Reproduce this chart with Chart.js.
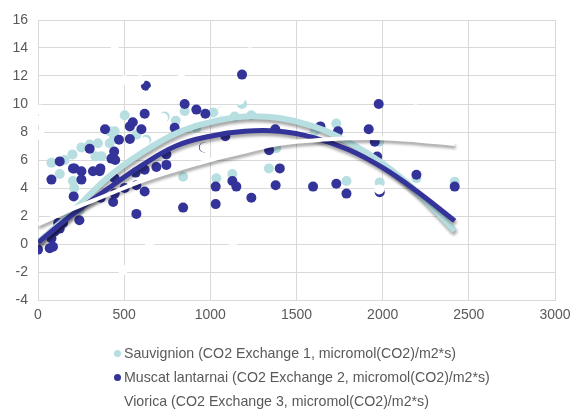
<!DOCTYPE html>
<html>
<head>
<meta charset="utf-8">
<script src="https://cdn.jsdelivr.net/npm/chart.js@4"></script>
<style>
  body { margin: 0; background: #fff; }
  #wrap { position: relative; width: 572px; height: 410px; }
  #legend { position: absolute; left: 114px; top: 343px; font: 14.2px "Liberation Sans", Arial, sans-serif; color: #595959; }
  .item { height: 24px; line-height: 20px; white-space: nowrap; }
  .dot { display: inline-block; width: 7px; height: 7px; border-radius: 50%; margin-right: 3px; vertical-align: 1px; }
</style>
</head>
<body>
<div id="wrap">
  <canvas id="chart" width="572" height="410"></canvas>
  <div id="legend"></div>
</div>
<script>
// series names
const seriesNames = [
  'Sauvignion (CO2 Exchange 1, micromol(CO2)/m2*s)',
  'Muscat lantarnai (CO2 Exchange 2, micromol(CO2)/m2*s)',
  'Viorica (CO2 Exchange 3, micromol(CO2)/m2*s)'
];

// Sauvignion points
const sauvX = [78, 126, 155, 200, 203, 210, 242, 252, 300, 333, 348, 368, 416, 416, 442, 445, 503, 571, 629, 735, 799, 842, 851, 919, 1016, 1035, 1070, 1128, 1141, 1184, 1238, 1340, 1383, 1606, 1731, 1790, 1980, 1983, 2196, 2418];
const sauvY = [5.8, 5.0, 6.0, 6.4, 4.5, 4.0, 2.45, 6.9, 7.1, 6.26, 7.2, 6.26, 8.05, 7.2, 7.7, 8.05, 9.2, 7.8, 7.45, 9.1, 8.8, 4.8, 9.5, 8.3, 9.4, 4.7, 9.5, 5.0, 9.1, 10.0, 9.2, 5.4, 6.85, 8.05, 8.6, 4.5, 7.3, 4.4, 4.7, 4.45];

// Muscat lantarnai points
const muscX = [0, 68, 78, 87, 97, 117, 126, 145, 78, 126, 203, 211, 252, 252, 207, 240, 300, 319, 358, 362, 364, 389, 426, 436, 442, 445, 445, 448, 470, 503, 533, 533, 550, 567, 571, 571, 600, 619, 619, 619, 626, 687, 745, 745, 793, 842, 851, 919, 963, 971, 1031, 1031, 1087, 1128, 1151, 1184, 1238, 1341, 1377, 1379, 1403, 1596, 1639, 1731, 1741, 1790, 1919, 1954, 1968, 1977, 1983, 2196, 2418];
const muscY = [-0.4, -0.3, 0.4, -0.2, 0.9, 1.5, 1.1, 1.5, 4.6, 5.9, 5.4, 5.4, 5.2, 4.6, 3.4, 1.7, 6.8, 5.2, 5.2, 5.4, 3.3, 8.2, 6.1, 3.0, 6.6, 3.6, 4.7, 6.0, 7.45, 4.0, 8.4, 7.5, 8.7, 5.1, 4.2, 2.15, 8.2, 9.3, 3.75, 5.3, 11.3, 5.5, 5.65, 6.4, 8.3, 2.6, 10.0, 9.6, 6.9, 9.3, 4.1, 2.85, 7.7, 4.5, 4.1, 12.1, 3.3, 6.7, 8.2, 4.2, 5.4, 4.1, 8.4, 4.3, 8.05, 3.6, 8.2, 7.3, 6.25, 10.0, 3.7, 4.95, 4.1];

// Viorica points
const viorX = [10, 10, 10, 49, 68, 126, 155, 223, 300, 358, 416, 445, 445, 463, 493, 503, 590, 619, 648, 667, 687, 725, 745, 793, 832, 851, 967, 1073, 1131, 1171, 1171, 1229, 1373, 1383, 1383, 1596, 1635, 1780, 1935, 1980, 2192];
const viorY = [9.6, 8.8, 7.8, -1.1, 14.8, 11.6, 7.5, 15.2, 9.4, 10.55, 1.25, 13.8, 13.05, 13.0, -1.85, 11.7, 11.7, 7.3, 0.1, 10.9, 8.4, 9.0, 1.0, 12.5, 12.3, 12.5, 6.9, 9.5, 0.17, 10.3, 10.9, 13.7, 7.6, 13.2, 11.4, 9.5, 6.4, 0.65, 9.2, 3.9, 10.3];

// trendlines
const trendX = [0, 200, 400, 600, 800, 1000, 1200, 1400, 1600, 1800, 2000, 2200, 2418];
const sauvTrend = [0.1, 2.3, 4.7, 6.5, 7.9, 8.7, 9.1, 9.0, 8.4, 7.3, 5.75, 3.7, 0.95];
const muscTrend = [0.1, 2.1, 3.9, 5.6, 7.0, 7.7, 8.05, 8.05, 7.6, 6.75, 5.45, 3.75, 1.65];
const viorTrend = [1.4, 2.5, 3.5, 4.5, 5.3, 6.0, 6.6, 7.15, 7.4, 7.55, 7.55, 7.4, 7.15];

const colors = ['#b7dee0', '#333399', '#ffffff'];

const pts = (xs, ys) => xs.map((x, i) => ({ x: x, y: ys[i] }));

// drop shadow for the trendlines
const shadowPlugin = {
  id: 'shadow',
  beforeDatasetDraw(chart, args) {
    const ds = chart.data.datasets[args.index];
    if (!ds.shadow) return;
    const ctx = chart.ctx;
    ctx.save();
    ctx.shadowColor = ds.shadow;
    ctx.shadowBlur = 3;
    ctx.shadowOffsetX = 1;
    ctx.shadowOffsetY = 3;
  },
  afterDatasetDraw(chart, args) {
    if (chart.data.datasets[args.index].shadow) chart.ctx.restore();
  }
};

const scatterSet = (i, data, order) => ({
  label: seriesNames[i],
  data: data,
  backgroundColor: colors[i],
  borderWidth: 0,
  pointRadius: 5,
  pointHoverRadius: 5,
  order: order
});

const trendSet = (i, data, width, order) => ({
  label: 'trend' + i,
  data: data,
  showLine: true,
  borderColor: colors[i],
  borderWidth: width,
  pointRadius: 0,
  tension: 0.4,
  fill: false,
  shadow: 'rgba(0,0,0,0.35)',
  order: order
});

const gridColor = '#d9d9d9';
const tickFont = { family: '"Liberation Sans", Arial, sans-serif', size: 14 };

const chart = new Chart(document.getElementById('chart'), {
  type: 'scatter',
  data: {
    datasets: [
      scatterSet(0, pts(sauvX, sauvY), 7),
      scatterSet(1, pts(muscX, muscY), 6),
      scatterSet(2, pts(viorX, viorY), 5),
      trendSet(0, pts(trendX, sauvTrend), 6, 4),
      trendSet(1, pts(trendX, muscTrend), 5, 3),
      trendSet(2, pts(trendX, viorTrend), 4, 2)
    ]
  },
  options: {
    responsive: false,
    animation: false,
    layout: { padding: { left: 0, right: 17, top: 20, bottom: 85 } },
    plugins: {
      legend: { display: false },
      tooltip: { enabled: false }
    },
    scales: {
      x: {
        min: 0,
        max: 3000,
        ticks: { stepSize: 500, color: '#595959', font: tickFont, padding: 7, maxRotation: 0, callback: (v) => String(v) },
        grid: { color: gridColor, drawTicks: false },
        border: { color: gridColor },
        afterFit: (s) => { s.height = 25; s.paddingLeft = 0; s.paddingRight = 0; }
      },
      y: {
        min: -4,
        max: 16,
        ticks: { stepSize: 2, color: '#595959', font: tickFont, padding: 10 },
        grid: { color: gridColor, drawTicks: false },
        border: { color: gridColor },
        afterFit: (s) => { s.width = 38; s.paddingTop = 0; s.paddingBottom = 0; }
      }
    }
  },
  plugins: [shadowPlugin]
});

// legend, one item per line
const legend = document.getElementById('legend');
seriesNames.forEach((name, i) => {
  const row = document.createElement('div');
  row.className = 'item';
  const dot = document.createElement('span');
  dot.className = 'dot';
  dot.style.background = colors[i];
  row.appendChild(dot);
  row.appendChild(document.createTextNode(name));
  legend.appendChild(row);
});
</script>
</body>
</html>
